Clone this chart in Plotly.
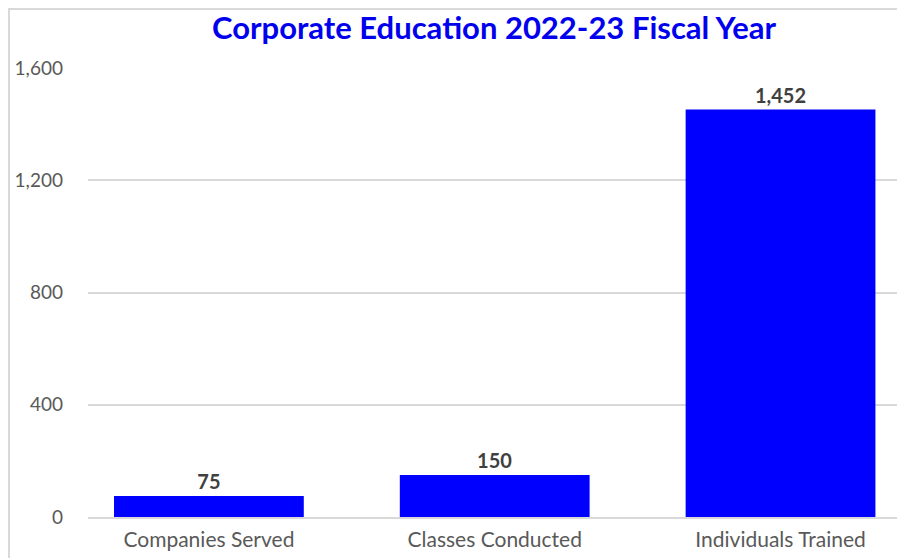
import plotly.graph_objects as go

categories = ["Companies Served", "Classes Conducted", "Individuals Trained"]
values = [75, 150, 1452]
value_labels = ["75", "150", "1,452"]
y_tickvals = [0, 400, 800, 1200, 1600]
y_ticktext = ["0", "400", "800", "1,200", "1,600"]
title_text = "Corporate Education 2022-23 Fiscal Year"

# page is shown with an 8px body margin; positions below are in figure px
OFF = 8
W, H = 905, 558
ml = 88 - OFF
mt = 68 - OFF
mb = H - (517.5 - OFF)
mr = W - (898 - OFF)
pw = W - ml - mr
ph = H - mt - mb


def px_x(x):
    return (x - OFF - ml) / pw


def px_y(y):
    return (H - mb - (y - OFF)) / ph


fig = go.Figure(
    go.Bar(
        x=categories,
        y=values,
        text=value_labels,
        textposition="outside",
        textfont=dict(family="Lato", size=20, color="#404040", weight="bold"),
        marker=dict(color="#0000FF", line=dict(width=0)),
        cliponaxis=False,
    )
)

fig.update_layout(
    width=W,
    height=H,
    margin=dict(l=ml, r=mr, t=mt, b=mb, autoexpand=False),
    paper_bgcolor="white",
    plot_bgcolor="white",
    bargap=0.336,
    showlegend=False,
    title=dict(
        text="<b>" + title_text + "</b>",
        x=(494 - OFF) / W,
        xanchor="center",
        y=1 - 20 / H,
        yanchor="middle",
        font=dict(family="Lato", size=31, color="#0000EE"),
    ),
    xaxis=dict(
        range=[-0.423, 2.411],
        showgrid=False,
        showline=True,
        linecolor="#d9d9d9",
        linewidth=2,
        ticks="",
        tickfont=dict(family="Lato", size=21, color="#595959"),
        ticklabelstandoff=3,
        fixedrange=True,
    ),
    yaxis=dict(
        range=[0, 1600],
        tickvals=y_tickvals,
        ticktext=y_ticktext,
        showgrid=True,
        gridcolor="#d9d9d9",
        gridwidth=1.5,
        zeroline=False,
        showline=False,
        ticks="",
        tickfont=dict(family="Lato", size=19, color="#595959"),
        ticklabelstandoff=24,
        fixedrange=True,
    ),
    shapes=[
        dict(
            type="rect",
            xref="paper",
            yref="paper",
            x0=px_x(9),
            x1=px_x(900),
            y0=px_y(620),
            y1=px_y(9),
            line=dict(color="#d9d9d9", width=2),
            fillcolor="rgba(0,0,0,0)",
            layer="below",
        )
    ],
)

fig.write_html("out.html")
